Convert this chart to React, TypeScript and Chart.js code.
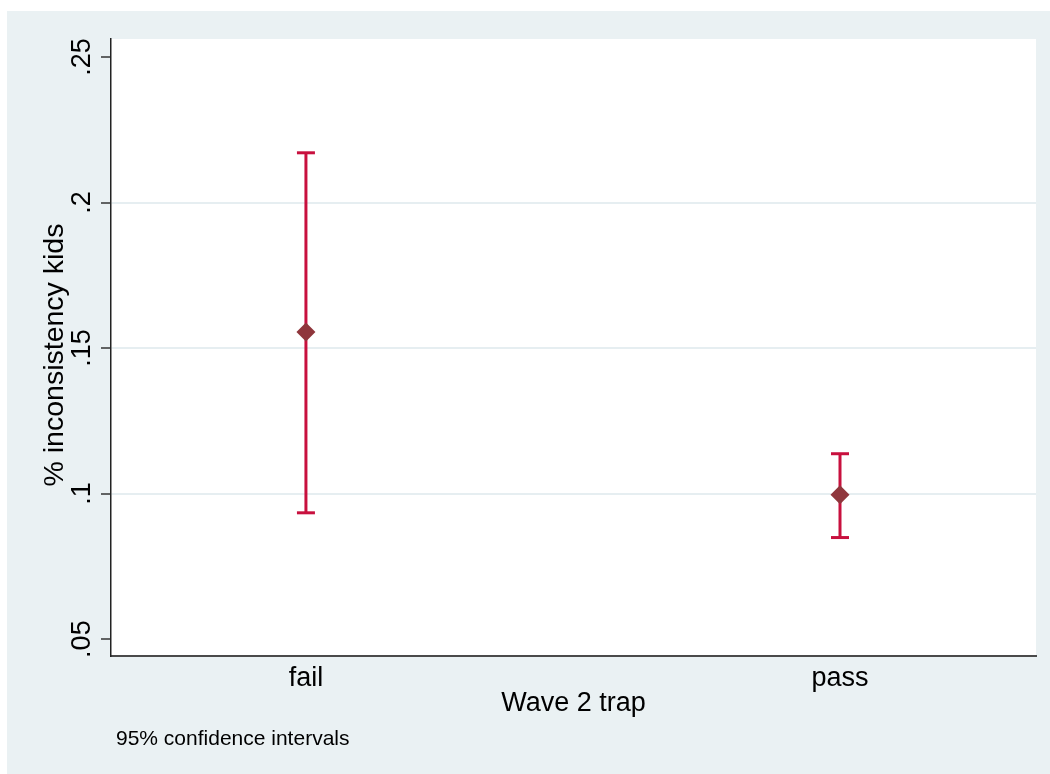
import React, { useEffect, useRef } from "react";
import { Chart, registerables } from "chart.js";

Chart.register(...registerables);

const categories = ["fail", "pass"];
const categoryX = [1, 2];
const means = [0.1555, 0.0996];
const lower = [0.0934, 0.0849];
const upper = [0.2171, 0.1137];
const yTickValues = [0.05, 0.1, 0.15, 0.2, 0.25];
const yTickLabels = [".05", ".1", ".15", ".2", ".25"];
const yTitle = "% inconsistency kids";
const xTitle = "Wave 2 trap";
const noteText = "95% confidence intervals";

const FONT = '"Liberation Sans", Arial, Helvetica, sans-serif';
const BAR = "#C8103E";
const MARK = "#8F363C";
const OUTER = "#EAF1F3";

export default function App() {
  const ref = useRef<HTMLCanvasElement | null>(null);

  useEffect(() => {
    const canvas = ref.current;
    if (!canvas) return;

    const bgPlugin = {
      id: "bg",
      beforeDraw(chart: any) {
        const { ctx, chartArea } = chart;
        ctx.save();
        ctx.fillStyle = "#ffffff";
        ctx.fillRect(0, 0, chart.width, chart.height);
        ctx.fillStyle = OUTER;
        ctx.fillRect(7, 11, chart.width - 7, chart.height - 11);
        ctx.fillStyle = "#ffffff";
        ctx.fillRect(chartArea.left, chartArea.top, chartArea.right - chartArea.left, chartArea.bottom - chartArea.top);
        ctx.restore();
      },
    };

    const textPlugin = {
      id: "texts",
      afterDraw(chart: any) {
        const { ctx, chartArea } = chart;
        const ys = chart.scales.y;
        const xs = chart.scales.x;
        ctx.save();
        ctx.fillStyle = "#000";
        // y tick labels, rotated
        ctx.font = `27px ${FONT}`;
        yTickValues.forEach((v, i) => {
          const py = ys.getPixelForValue(v);
          ctx.save();
          ctx.translate(90, py);
          ctx.rotate(-Math.PI / 2);
          ctx.textAlign = "center";
          ctx.textBaseline = "alphabetic";
          ctx.fillText(yTickLabels[i], 0, 0);
          ctx.restore();
        });
        // x category labels
        ctx.textAlign = "center";
        ctx.textBaseline = "alphabetic";
        categories.forEach((c, i) => {
          const px = xs.getPixelForValue(categoryX[i]);
          ctx.fillText(c, px, 686);
        });
        // x title
        ctx.fillText(xTitle, (chartArea.left + chartArea.right) / 2, 711);
        // y title
        ctx.save();
        ctx.font = `28.5px ${FONT}`;
        ctx.translate(63, 355);
        ctx.rotate(-Math.PI / 2);
        ctx.textAlign = "center";
        ctx.fillText(yTitle, 0, 0);
        ctx.restore();
        // note
        ctx.font = `21px ${FONT}`;
        ctx.textAlign = "left";
        ctx.fillText(noteText, 116, 745);
        ctx.restore();
      },
    };

    const datasets: any[] = [
      {
        type: "scatter",
        data: categories.map((c, i) => ({ x: categoryX[i], y: means[i] })),
        pointStyle: "rectRot",
        pointRadius: 9.5,
        backgroundColor: MARK,
        borderWidth: 0,
        pointBorderWidth: 0,
      },
    ];
    categories.forEach((c, i) => {
      datasets.push({
        type: "line",
        data: [
          { x: categoryX[i], y: lower[i] },
          { x: categoryX[i], y: upper[i] },
        ],
        borderColor: BAR,
        borderWidth: 3,
        pointStyle: "line",
        pointRadius: 9,
        pointBorderWidth: 3,
        pointBorderColor: BAR,
        showLine: true,
        fill: false,
      });
    });

    const chart = new Chart(canvas, {
      type: "scatter",
      data: { datasets },
      plugins: [bgPlugin, textPlugin],
      options: {
        animation: false,
        responsive: false,
        events: [],
        layout: { padding: { left: 0, right: 14, top: 39, bottom: 0 } },
        plugins: { legend: { display: false }, tooltip: { enabled: false } },
        scales: {
          x: {
            type: "linear",
            min: 0.635,
            max: 2.367,
            position: "bottom",
            afterFit: (s: any) => {
              s.height = 118;
            },
            ticks: { display: false },
            grid: { display: true, color: "rgba(0,0,0,0)", drawTicks: false },
            border: { display: true, color: "#4a4a4a", width: 2 },
          },
          y: {
            type: "linear",
            min: 0.0442,
            max: 0.2562,
            position: "left",
            afterBuildTicks: (s: any) => {
              s.ticks = yTickValues.map((v) => ({ value: v }));
            },
            afterFit: (s: any) => {
              s.width = 111;
            },
            ticks: { display: false },
            grid: {
              color: (ctx: any) => {
                const v = ctx.tick ? ctx.tick.value : null;
                if (v === yTickValues[0] || v === yTickValues[yTickValues.length - 1]) return "rgba(0,0,0,0)";
                return "#E6EEF1";
              },
              lineWidth: 2,
              drawTicks: true,
              tickLength: 10,
              tickColor: "#333",
              tickWidth: 1.5,
            },
            border: { display: true, color: "#222", width: 1.5 },
          },
        },
      },
    });

    return () => chart.destroy();
  }, []);

  return (
    <div style={{ position: "absolute", left: 0, top: 0, width: 1050, height: 774 }}>
      <canvas ref={ref} width={1050} height={774} style={{ width: 1050, height: 774, display: "block" }} />
    </div>
  );
}
